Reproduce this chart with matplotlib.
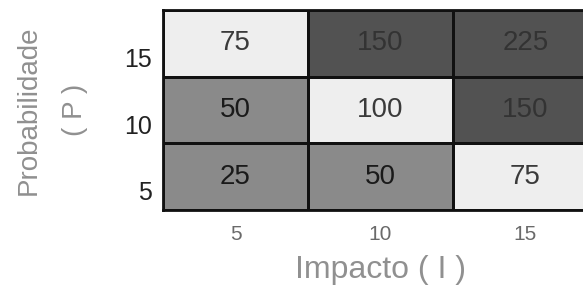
import matplotlib
matplotlib.use("Agg")
import matplotlib.pyplot as plt
import matplotlib.transforms as mtransforms
from matplotlib.colors import BoundaryNorm, ListedColormap
import numpy as np

# risk matrix: rows = Probabilidade (bottom to top), cols = Impacto
impacto = [5, 10, 15]
probabilidade = [5, 10, 15]
risco = [
    [25, 50, 75],     # P = 5
    [50, 100, 150],   # P = 10
    [75, 150, 225],   # P = 15
]

# grey levels used for the three risk bands
band_limits = [0, 60, 120, 300]
band_colors = ["#8a8a8a", "#eeeeee", "#525252"]
text_colors = ["#1a1a1a", "#3a3a3a", "#333333"]

plt.rcParams["font.family"] = ["Liberation Sans", "DejaVu Sans"]

fig = plt.figure(figsize=(5.83, 2.87), dpi=100)
ax = fig.add_axes([163 / 583, 1 - 210 / 287, 435 / 583, 200 / 287])

cmap = ListedColormap(band_colors)
norm = BoundaryNorm(band_limits, cmap.N)
values = np.array(risco)
ax.pcolormesh(values, cmap=cmap, norm=norm, edgecolors="#111111", linewidth=2)

for i in range(len(probabilidade)):
    for j in range(len(impacto)):
        band = int(norm(values[i, j]))
        ax.text(j + 0.5, i + 0.5, str(values[i, j]), ha="center", va="center",
                fontsize=20, color=text_colors[band])

ax.set_xlim(0, 3)
ax.set_ylim(0, 3)
ax.set_xticks(np.arange(len(impacto)) + 0.5)
ax.set_xticklabels(impacto)
ax.set_yticks(np.arange(len(probabilidade)) + 0.5)
ax.set_yticklabels(probabilidade)
ax.tick_params(length=0)
ax.tick_params(axis="x", pad=11, labelsize=15, labelcolor="#6a6a6a")
ax.tick_params(axis="y", pad=8, labelsize=18, labelcolor="#222222")
for lab in ax.get_yticklabels():
    lab.set_transform(lab.get_transform() + mtransforms.ScaledTranslation(0, -0.14, fig.dpi_scale_trans))
for sp in ax.spines.values():
    sp.set_color("#111111")
    sp.set_linewidth(2)

ax.set_xlabel("Impacto ( I )", fontsize=23, color="#909090", labelpad=8)
ax.set_ylabel("Probabilidade\n( P )", fontsize=20, color="#909090",
              linespacing=2.0, labelpad=26)

fig.savefig("out.png", dpi=100)
